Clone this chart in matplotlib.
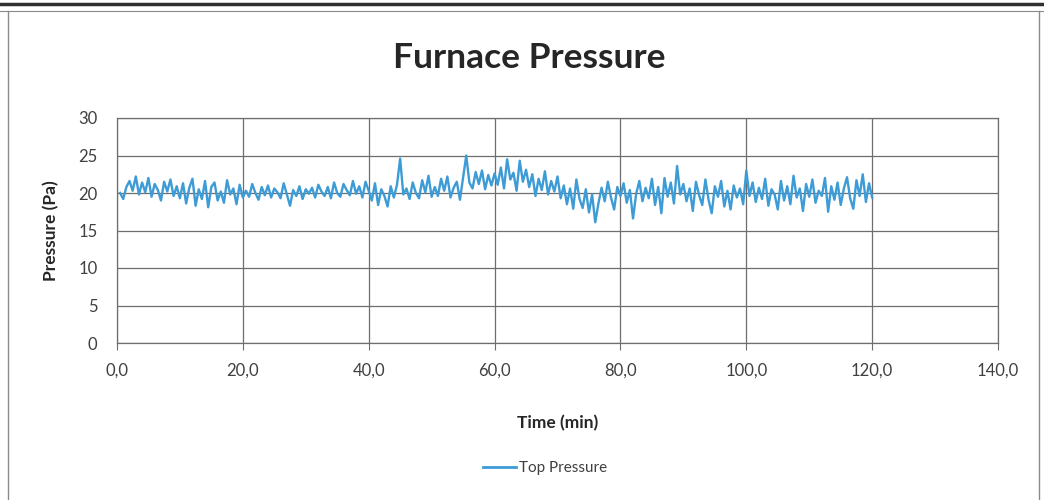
import matplotlib.pyplot as plt
import numpy as np
from matplotlib.ticker import FuncFormatter, MultipleLocator
from matplotlib.lines import Line2D

plt.rcParams['font.family'] = ['Lato', 'DejaVu Sans']

# pressure read every 0.5 min, 0.5 .. 120 min
pressure = [
    20.0, 19.2, 20.8, 21.6, 20.3, 22.2, 19.8, 21.4, 20.1, 22.0, 19.5, 21.2, 20.4, 19.0, 21.5, 20.2, 21.8, 19.6, 20.9, 19.3,
    21.3, 18.6, 20.7, 21.9, 18.3, 20.5, 19.2, 21.6, 18.1, 20.8, 21.4, 19.0, 20.2, 18.7, 21.7, 19.8, 20.6, 18.5, 21.1, 19.4,
    20.3, 19.5, 21.2, 20.0, 19.1, 20.8, 19.7, 21.0, 19.4, 20.6, 20.1, 19.3, 21.3, 19.8, 18.3, 20.4, 19.6, 20.9, 19.2, 20.5,
    19.9, 20.7, 19.4, 21.1, 20.2, 19.6, 20.8, 19.3, 21.4, 20.0, 19.5, 21.2, 20.4, 19.7, 21.6, 19.9, 20.9, 19.4, 21.5, 20.3,
    19.0, 21.3, 18.4, 20.5, 19.6, 18.2, 20.9, 19.4, 21.1, 24.6, 19.8, 20.6, 19.2, 21.4, 20.0, 19.3, 21.7, 20.1, 22.3, 19.5,
    20.8, 19.6, 21.9, 20.3, 22.2, 19.4, 20.7, 21.5, 19.1, 22.0, 25.0, 21.4, 20.6, 22.8, 21.2, 23.0, 20.5, 22.4, 21.0, 22.6,
    21.1, 23.4, 20.6, 24.5, 21.8, 22.7, 20.3, 24.3, 21.5, 23.1, 20.8, 22.5, 19.6, 21.9, 20.4, 22.9, 19.8, 21.6, 20.2, 22.2,
    19.3, 21.0, 18.5, 20.6, 17.9, 21.8, 19.2, 18.0, 20.5, 17.4, 19.8, 16.1, 18.6, 20.7, 18.9, 21.5, 19.4, 17.8, 20.8, 19.6,
    21.3, 18.7, 20.4, 16.6, 19.9, 21.6, 18.9, 20.7, 19.3, 21.9, 18.4, 20.8, 17.3, 22.0, 19.5, 21.4, 18.6, 23.6, 19.8, 21.2,
    18.9, 20.6, 17.6, 21.5, 19.7, 18.4, 21.8, 19.1, 17.3, 20.9, 19.5, 21.6, 18.2, 20.3, 17.8, 21.0, 19.4, 20.6, 18.5, 23.0,
    19.6, 21.4, 18.8, 20.7, 19.2, 21.9, 18.3, 20.5, 19.8, 17.8, 21.6, 19.0, 20.9, 18.5, 22.3, 19.4, 20.6, 17.6, 21.2, 19.5,
    21.8, 18.7, 20.3, 19.6, 22.0, 17.5, 20.9, 19.1, 21.4, 18.4, 20.6, 22.1, 19.3, 17.9, 21.7, 19.6, 22.5, 18.8, 21.3, 19.4,
]
time = np.arange(1, len(pressure) + 1) * 0.5

fig = plt.figure(figsize=(10.44, 5.0), dpi=100)
ax = fig.add_axes([0.112, 0.314, 0.844, 0.450])

ax.plot(time, pressure, color='#3d9bd6', lw=1.7, label='Top Pressure')

ax.set_xlim(0, 140)
ax.set_ylim(0, 30)
ax.xaxis.set_major_locator(MultipleLocator(20))
ax.yaxis.set_major_locator(MultipleLocator(5))
ax.xaxis.set_major_formatter(FuncFormatter(lambda v, p: f'{v:.1f}'.replace('.', ',')))
ax.grid(True, color='#6e6e6e', lw=0.9)
ax.set_axisbelow(True)
for s in ax.spines.values():
    s.set_color('#6e6e6e')
    s.set_linewidth(0.9)
ax.tick_params(axis='x', length=5, color='#6e6e6e', labelsize=12, labelcolor='#404040', pad=9)
ax.tick_params(axis='y', length=0, labelsize=12, labelcolor='#404040', pad=14)

ax.set_xlabel('Time (min)', fontsize=12.5, fontweight='bold', color='#262626', labelpad=26)
ax.set_ylabel('Pressure (Pa)', fontsize=12.5, fontweight='bold', color='#262626', labelpad=14)
fig.text(0.507, 0.885, 'Furnace Pressure', ha='center', va='center',
         fontsize=25.5, fontweight='bold', color='#262626')

handle = Line2D([], [], color='#3d9bd6', lw=2)
fig.legend([handle], ['Top Pressure'], loc='center', bbox_to_anchor=(0.522, 0.064),
           frameon=False, fontsize=11, handlelength=2.2, handletextpad=0.2,
           labelcolor='#404040')

# scanned page frame
fig.add_artist(Line2D([0.0, 1.0], [0.992, 0.992], color='#303030', lw=2.5))
fig.add_artist(Line2D([0.0, 1.0], [0.978, 0.978], color='#8a8a8a', lw=0.8))
fig.add_artist(Line2D([0.008, 0.008], [0.0, 0.978], color='#8a8a8a', lw=1.0))
fig.add_artist(Line2D([0.995, 0.995], [0.0, 0.978], color='#8a8a8a', lw=1.0))

fig.savefig('out.png', dpi=100)
